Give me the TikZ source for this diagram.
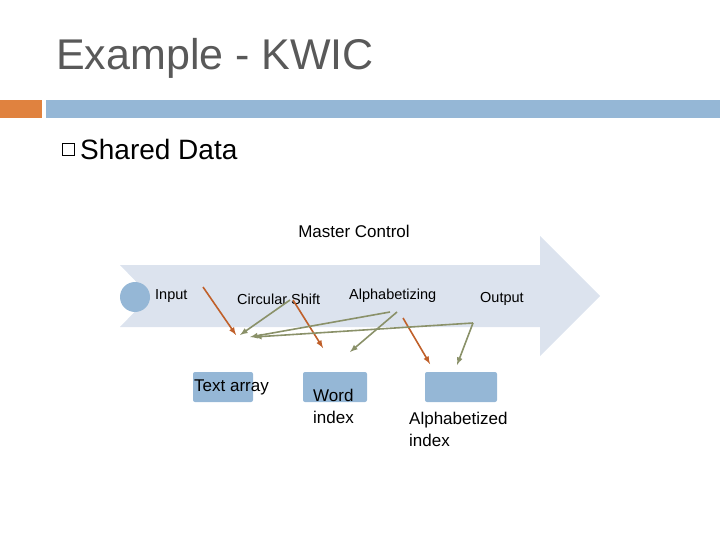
\documentclass[tikz,border=0pt]{standalone}
\usepackage{fontspec}
\setmainfont{Liberation Sans}
\begin{document}
\begin{tikzpicture}[x=1pt,y=-1pt,
 lbl/.style={inner sep=0,anchor=west,font=\fontsize{14.5}{16}\selectfont},
 box/.style={fill=boxc,draw=none,rounded corners=2pt},
 oa/.style={draw=orc,line width=1.6pt,-latex},
 ga/.style={draw=grc,line width=1.6pt,-latex}]
\definecolor{boxc}{HTML}{95B7D6}
\definecolor{bandc}{HTML}{DCE3EE}
\definecolor{orc}{HTML}{C0602A}
\definecolor{grc}{HTML}{8A9169}
\definecolor{titc}{HTML}{595959}
\definecolor{barc}{HTML}{E0823F}
\useasboundingbox (0,0) rectangle (720,540);
\node[anchor=west,inner sep=0,text=titc,font=\fontsize{43}{46}\selectfont] (title) at (56,58) {Example - KWIC};
\fill[barc] (0,100) rectangle (42,118);
\fill[boxc] (46,100) rectangle (720,118);
\draw[line width=0.8pt] (62,143) rectangle (74,155);
\node[lbl,font=\fontsize{28}{30}\selectfont] (sd) at (80,149) {Shared Data};
\fill[bandc] (120,265) -- (540,265) -- (540,236) -- (600,296) -- (540,356) -- (540,327) -- (120,327) -- (150,296) -- cycle;
\node[anchor=center,font=\fontsize{17}{18}\selectfont] (mc) at (354,231) {Master Control};
\fill[boxc] (135,297) circle (15);
\node[lbl] (in) at (155,296) {Input};
\node[lbl] (cs) at (237,299) {Circular Shift};
\node[lbl] (al) at (349,296) {Alphabetizing};
\node[lbl] (ou) at (480,299) {Output};
\node[box,minimum width=60,minimum height=30] (ta) at (223,387) {};
\node[box,minimum width=64,minimum height=30] (wi) at (335,387) {};
\node[box,minimum width=72,minimum height=30] (ai) at (461,387) {};
\node[lbl,font=\fontsize{17}{22}\selectfont] (tat) at (194,387) {Text array};
\node[lbl,font=\fontsize{17}{22}\selectfont,align=left,anchor=north west] (wit) at (313,389) {Word\\index};
\node[lbl,font=\fontsize{17}{22}\selectfont,align=left,anchor=north west] (ait) at (409,412) {Alphabetized\\index};
\coordinate (o1) at (203,287); \coordinate (o1e) at (236,335);
\coordinate (c1) at (290,300); \coordinate (c1e) at (240,335);
\coordinate (o2) at (293,300); \coordinate (o2e) at (323,348);
\coordinate (a1) at (390,312); \coordinate (a1e) at (250,337);
\coordinate (a2) at (397,312); \coordinate (a2e) at (350,352);
\coordinate (o3) at (403,318); \coordinate (o3e) at (430,364);
\coordinate (p1) at (473,323); \coordinate (p1e) at (254,337); \coordinate (p2e) at (457,365);
\draw[oa] (o1) -- (o1e);
\draw[ga] (c1) -- (c1e);
\draw[oa] (o2) -- (o2e);
\draw[ga] (a1) -- (a1e);
\draw[ga] (a2) -- (a2e);
\draw[oa] (o3) -- (o3e);
\draw[ga] (p1) -- (p1e);
\draw[ga] (p1) -- (p2e);
\end{tikzpicture}
\end{document}
